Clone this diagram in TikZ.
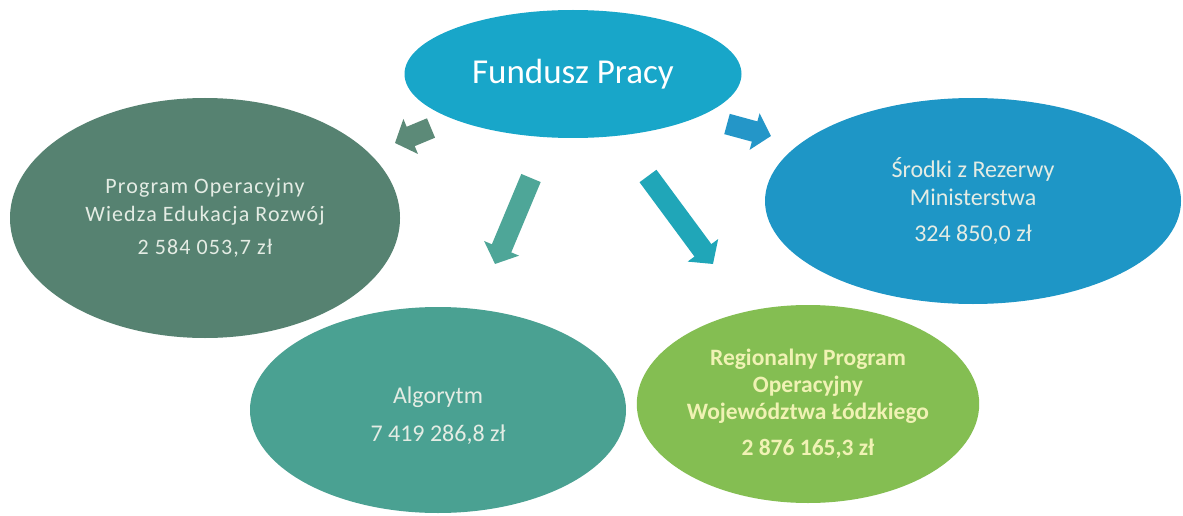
\documentclass[tikz,border=0pt]{standalone}
\usepackage{fontspec}
\setmainfont{Carlito}
\usetikzlibrary{shapes.geometric,arrows.meta}
\definecolor{topblue}{RGB}{24,166,201}
\definecolor{leftgrey}{RGB}{86,130,113}
\definecolor{rightblue}{RGB}{30,150,198}
\definecolor{teal}{RGB}{74,161,146}
\definecolor{lgreen}{RGB}{132,190,82}
\definecolor{arrL}{RGB}{92,138,120}
\definecolor{arrR}{RGB}{36,150,200}
\definecolor{arrBL}{RGB}{78,166,152}
\definecolor{arrBR}{RGB}{32,166,184}
\definecolor{paletext}{RGB}{228,236,228}
\definecolor{yeltext}{RGB}{240,242,180}
\tikzset{
  bubble/.style={ellipse, inner sep=0pt, align=center, draw=none},
  blockarrow/.style={line width=21pt, -{Triangle[width=37pt,length=17pt]}},
}
\begin{document}
\begin{tikzpicture}[x=1pt,y=-1pt]
\useasboundingbox[fill=white] (0,0) rectangle (1183,516);
% ellipses
\node[bubble, fill=leftgrey, minimum width=390pt, minimum height=240pt,
      text=paletext, font={\fontsize{22}{28}\selectfont\addfontfeature{LetterSpace=5}}]
      (wer) at (205,218) {Program Operacyjny\\Wiedza Edukacja Rozwój\\[5pt]2 584 053,7 zł};
\node[bubble, fill=rightblue, minimum width=416pt, minimum height=206pt,
      text=paletext, font={\fontsize{24}{28}\selectfont}]
      (rez) at (973,201) {Środki z Rezerwy\\Ministerstwa\\[8pt]324 850,0 zł};
\node[bubble, fill=teal, minimum width=376pt, minimum height=206pt]
      (alg) at (438,410) {};
\node[align=center, inner sep=0pt, text=paletext, font={\fontsize{24}{38}\selectfont}]
      (algtext) at ([yshift=-6pt]alg.center) {Algorytm\\7 419 286,8 zł};
\node[bubble, fill=lgreen, minimum width=336pt, minimum height=198pt,
      text=yeltext, font={\fontsize{23.5}{27}\selectfont\bfseries}]
      (rpo) at (808,404) {Regionalny Program\\Operacyjny\\Województwa Łódzkiego\\[9pt]2 876 165,3 zł};
\node[bubble, fill=topblue, minimum width=337pt, minimum height=128pt,
      text=white, font={\fontsize{35}{40}\selectfont}]
      (fp) at (573,74) {Fundusz Pracy};
% arrow anchors
\coordinate (aLt) at (431,128); \coordinate (aLh) at (395,143);
\coordinate (aRt) at (727,124); \coordinate (aRh) at (771,136);
\coordinate (aBLt) at (531,178); \coordinate (aBLh) at (495,264);
\coordinate (aBRt) at (648,176); \coordinate (aBRh) at (713,264);
\draw[blockarrow, arrL] (aLt) -- (aLh);
\draw[blockarrow, arrR] (aRt) -- (aRh);
\draw[blockarrow, arrBL] (aBLt) -- (aBLh);
\draw[blockarrow, arrBR] (aBRt) -- (aBRh);
\end{tikzpicture}
\end{document}
